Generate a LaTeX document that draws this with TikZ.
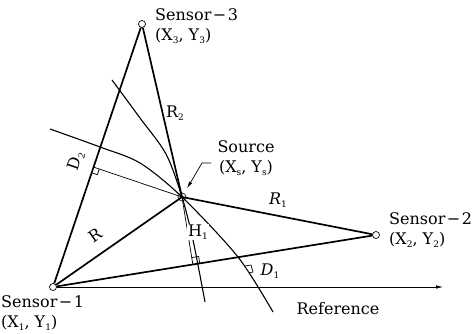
\documentclass[tikz,border=0pt]{standalone}
\usepackage{fontspec}
\setmainfont{DejaVu Serif}
\usetikzlibrary{arrows.meta,calc}
\newcommand{\idx}[1]{\raisebox{-0.3ex}{\fontsize{9}{9}\selectfont #1}}

\begin{document}
\begin{tikzpicture}[
  x=1pt,y=-1pt,
  font=\fontsize{16}{20.5}\selectfont,
  sensor/.style={draw,circle,line width=0.7pt,minimum size=7pt,inner sep=0pt},
  srcdot/.style={draw,circle,line width=0.6pt,minimum size=8pt,inner sep=0pt},
  side/.style={line width=1.7pt},
  guide/.style={line width=0.7pt},
  locus/.style={line width=1.1pt},
  lbl/.style={inner sep=1pt,align=left},
  tag/.style={inner sep=1pt},
  lead/.style={-{Latex[length=7pt,width=3.5pt]},line width=0.7pt}
]
  \useasboundingbox (0,0) rectangle (474,334);
  \node[sensor] (s1) at (53,287) {};
  \node[sensor] (s2) at (376,235) {};
  \node[sensor] (s3) at (142,24) {};
  \node[srcdot] (src) at (182,197) {};
  % triangle and ranges
  \draw[side] (s1) -- (s3) -- (src.center) -- (s2);
  \draw[side] (s1) -- (s2);
  \draw[side] (s1) -- (src.center);
  % perpendiculars
  \coordinate (f1) at ($(s1.center)!(src.center)!(s2.center)$);
  \coordinate (f2) at ($(s1.center)!(src.center)!(s3.center)$);
  \draw[guide] (src.center) -- (f1);
  \draw[guide] (src.center) -- (f2);
  \coordinate (a1) at ($(f1)!7pt!(src)$);
  \coordinate (b1) at ($(f1)!7pt!(s2)$);
  \draw[guide] (a1) -- ($(a1)+(b1)-(f1)$) -- (b1);
  \coordinate (a2) at ($(f2)!6pt!(src)$);
  \coordinate (b2) at ($(f2)!6pt!(s1)$);
  \draw[guide] (a2) -- ($(a2)+(b2)-(f2)$) -- (b2);
  % loci
  \draw[locus] plot[smooth] coordinates {(50,129) (100,147) (140,163) (182,197) (238,257) (273,312)};
  \draw[locus] plot[smooth] coordinates {(112,80) (140,118) (166,154) (182,197) (193,240) (205,302)};
  \draw[guide] (245,266) -- (251,265) -- (253,272) -- (249,273);
  % reference axis
  \coordinate (refend) at (443,287);
  \draw[lead] (s1) -- (refend);
  % labels
  \node[lbl,anchor=west] (s3lbl) at (154,26) {Sensor\hspace{1.5pt}−\hspace{1.5pt}3\\(X\idx{3}, Y\idx{3})};
  \node[lbl,anchor=west] (s2lbl) at (388,230) {Sensor\hspace{1.5pt}−\hspace{1.5pt}2\\(X\idx{2}, Y\idx{2})};
  \node[lbl,anchor=west] (s1lbl) at (0,313) {Sensor\hspace{1.5pt}−\hspace{1.5pt}1\\(X\idx{1}, Y\idx{1})};
  \node[lbl,align=center] (srclbl) at (246,158) {Source\\(X\idx{s}, Y\idx{s})};
  \coordinate (ldr) at (211,163);
  \draw[lead,shorten >=10pt] (ldr) -- ++(-9,0) -- (src.center);
  \node[tag] (r2lbl) at (175,113) {R\idx{2}};
  \node[tag] (r1lbl) at (278,200) {\textit{R}\idx{1}};
  \node[tag,rotate=35] (rlbl) at (95,235) {R};
  \node[tag,rotate=71] (d2lbl) at (76,161) {D\idx{2}};
  \node[tag,fill=white] (h1lbl) at (198,232) {H\idx{1}};
  \node[tag] (d1lbl) at (270,271) {\textit{D}\idx{1}};
  \node[tag] (reflbl) at (338,309) {Reference};
\end{tikzpicture}
\end{document}
